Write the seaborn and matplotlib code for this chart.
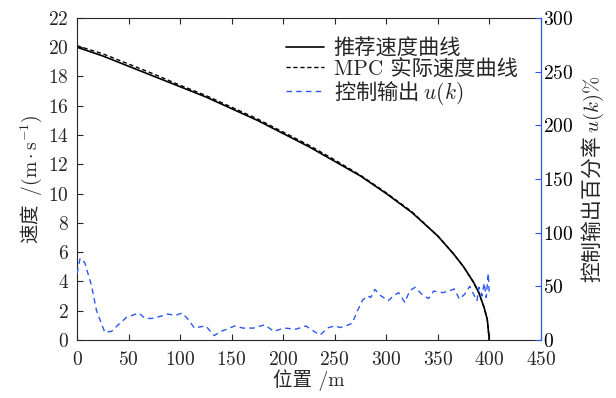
import numpy as np
import pandas as pd
import matplotlib
matplotlib.use('Agg')
import matplotlib.pyplot as plt
import seaborn as sns

pos = [0, 25, 50, 75, 100, 125, 150, 175, 200, 225, 250, 275, 300, 325,
       350, 365, 375, 385, 390, 395, 398, 400]
v_ref = [20.0, 19.4, 18.7, 18.0, 17.3, 16.6, 15.8, 15.0, 14.1, 13.2, 12.2,
         11.2, 10.0, 8.7, 7.1, 5.9, 5.0, 3.9, 3.2, 2.2, 1.4, 0.0]
v_mpc = [20.1, 19.55, 18.85, 18.15, 17.4, 16.7, 15.9, 15.1, 14.2, 13.3, 12.3,
         11.25, 10.05, 8.75, 7.1, 5.9, 5.0, 3.9, 3.2, 2.2, 1.4, 0.0]

# control output u(k) in percent
u_pos = [0, 3, 7.5, 14, 19, 27, 33.6, 40, 48, 60, 66, 73, 81, 87.6, 95.8, 102,
         107, 114, 118.6, 125, 133, 140, 148, 153, 161, 171, 182, 191, 201,
         212.5, 222, 229, 235.6, 244, 250.5, 255.4, 262, 267, 272, 277, 282,
         285, 289, 295, 302, 307, 312, 318, 323, 328, 334.6, 341, 346, 354.6,
         361, 366, 371, 376, 381, 384, 388, 390, 393, 395, 397, 399, 400]
u_val = [62, 76, 72, 51, 27, 7, 8, 14, 21, 25, 20, 20, 22, 24, 23, 25,
         20, 11, 12, 13, 4, 8, 11, 13, 11, 11, 14, 8, 11,
         10, 13, 8.5, 4.5, 11.5, 13, 11.5, 13.5, 15.5, 27, 37, 41,
         39.5, 47, 41, 36.5, 41, 44, 35, 46, 49, 42.5, 38.5, 45.5, 44,
         45.5, 47.5, 38, 42.5, 50, 44, 36.5, 49, 41, 53, 39.5, 62, 41]

blue = '#2b57f2'
cjk = 'Noto Sans CJK SC'

sns.set_style('ticks')
plt.rcParams['font.family'] = ['cmr10', cjk]
plt.rcParams['mathtext.fontset'] = 'cm'
plt.rcParams['axes.formatter.use_mathtext'] = True
plt.rcParams['axes.unicode_minus'] = False

fig, ax = plt.subplots(figsize=(6.16, 3.98), dpi=100)
fig.subplots_adjust(left=0.125, right=0.878, bottom=0.146, top=0.955)

speed = pd.DataFrame({'pos': pos, 'ref': v_ref, 'mpc': v_mpc})
ctrl = pd.DataFrame({'pos': u_pos, 'u': u_val})

sns.lineplot(data=speed, x='pos', y='ref', ax=ax, color='black', lw=1.2,
             estimator=None, label='推荐速度曲线', legend=False)
sns.lineplot(data=speed, x='pos', y='mpc', ax=ax, color='black', lw=1.0,
             linestyle=(0, (3, 2)), estimator=None, label='MPC 实际速度曲线',
             legend=False)

ax2 = ax.twinx()
sns.lineplot(data=ctrl, x='pos', y='u', ax=ax2, color=blue, lw=1.0,
             linestyle=(0, (4, 3)), estimator=None, label='控制输出 $u(k)$',
             legend=False)

ax.set_xlim(0, 450)
ax.set_ylim(0, 22)
ax.set_xticks(range(0, 451, 50))
ax.set_yticks(range(0, 23, 2))
ax2.set_ylim(0, 300)
ax2.set_yticks(range(0, 301, 50))

fs = 14
ax.set_xlabel('位置 /m', fontsize=fs, labelpad=0)
ax.set_ylabel('速度 $\\ /(\\mathrm{m}\\cdot\\mathrm{s}^{-1})$', fontsize=fs,
              family=cjk, labelpad=3)
ax2.set_ylabel('控制输出百分率 $u(k)\\%$', fontsize=15, family=cjk,
               labelpad=5)

ax.tick_params(direction='in', top=True, right=False, labelsize=fs, length=4,
               pad=6)
ax.tick_params(axis='x', pad=8)
ax2.tick_params(direction='in', colors='black', labelsize=fs, length=4, pad=1.5)
ax2.tick_params(axis='y', color=blue)
ax2.spines['right'].set_color(blue)
for s in ['left', 'top', 'bottom']:
    ax2.spines[s].set_visible(False)

h1, l1 = ax.get_legend_handles_labels()
h2, l2 = ax2.get_legend_handles_labels()
leg = ax2.legend(h1 + h2, l1 + l2, loc='upper right',
                 bbox_to_anchor=(0.977, 0.977), frameon=False, fontsize=15.3,
                 handlelength=1.8, handletextpad=0.45, labelspacing=0.0,
                 borderaxespad=0.2)
leg.get_texts()[2].set_family(cjk)

fig.savefig('out.png', dpi=100)
